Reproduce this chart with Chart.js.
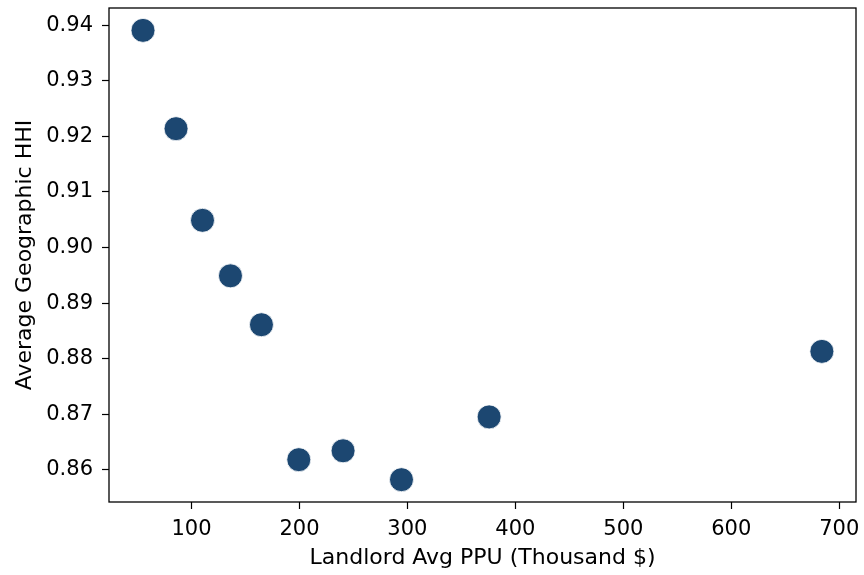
<!DOCTYPE html>
<html>
<head>
<meta charset="utf-8">
<title>Geographic HHI vs Landlord PPU</title>
<script src="https://cdn.jsdelivr.net/npm/chart.js@4.4.0/dist/chart.umd.min.js"></script>
<style>
    html, body { margin: 0; padding: 0; background: #ffffff; }
    #chart { display: block; }
</style>
</head>
<body>
<canvas id="chart" width="864" height="575"></canvas>
<script>
// Landlord average price per unit (thousand $) and average geographic HHI
const avgPpu = [55.1, 85.7, 110.2, 136.1, 164.8, 199.4, 240.4, 294.5, 375.7, 683.9];
const avgHhi = [0.9391, 0.9214, 0.9049, 0.8949, 0.8861, 0.8618, 0.8634, 0.8582, 0.8695, 0.8813];

const xTicks = [100, 200, 300, 400, 500, 600, 700];
const yTicks = [0.86, 0.87, 0.88, 0.89, 0.90, 0.91, 0.92, 0.93, 0.94];

const FONT = 'DejaVu Sans';
const POINT_COLOR = '#1c4771';

// Draws the full black box around the plot area
const frame = {
    id: 'frame',
    afterDraw(chart) {
        const { ctx, chartArea } = chart;
        ctx.save();
        ctx.strokeStyle = '#000000';
        ctx.lineWidth = 1.3;
        ctx.strokeRect(chartArea.left, chartArea.top,
            chartArea.right - chartArea.left, chartArea.bottom - chartArea.top);
        ctx.restore();
    }
};

const points = avgPpu.map((x, i) => ({ x: x, y: avgHhi[i] }));

new Chart(document.getElementById('chart'), {
    type: 'scatter',
    data: {
        datasets: [{
            data: points,
            backgroundColor: POINT_COLOR,
            borderColor: '#ffffff',
            borderWidth: 0.8,
            pointRadius: 12,
            pointHoverRadius: 12
        }]
    },
    options: {
        responsive: false,
        animation: false,
        layout: {
            autoPadding: false,
            padding: { left: 0, right: 8, top: 8, bottom: 0 }
        },
        plugins: {
            legend: { display: false },
            tooltip: { enabled: false }
        },
        scales: {
            x: {
                type: 'linear',
                min: 23.6,
                max: 715.5,
                afterBuildTicks: s => { s.ticks = xTicks.map(v => ({ value: v })); },
                afterFit: s => {
                    s.height = 73;
                    s.paddingLeft = 0;
                    s.paddingRight = 0;
                },
                grid: {
                    drawOnChartArea: false,
                    tickLength: 7,
                    tickWidth: 1.2,
                    tickColor: '#000000'
                },
                border: { display: false },
                ticks: {
                    color: '#000000',
                    padding: 8,
                    maxRotation: 0,
                    font: { family: FONT, size: 21 }
                },
                title: {
                    display: true,
                    text: 'Landlord Avg PPU (Thousand $)',
                    color: '#000000',
                    padding: { top: 0, bottom: 4 },
                    font: { family: FONT, size: 22 }
                }
            },
            y: {
                type: 'linear',
                min: 0.85418,
                max: 0.94313,
                afterBuildTicks: s => { s.ticks = yTicks.map(v => ({ value: v })); },
                afterFit: s => {
                    s.width = 109;
                    s.paddingTop = 0;
                    s.paddingBottom = 0;
                },
                grid: {
                    drawOnChartArea: false,
                    tickLength: 7,
                    tickWidth: 1.2,
                    tickColor: '#000000'
                },
                border: { display: false },
                ticks: {
                    color: '#000000',
                    padding: 9,
                    font: { family: FONT, size: 21 },
                    callback: v => v.toFixed(2)
                },
                title: {
                    display: true,
                    text: 'Average Geographic HHI',
                    color: '#000000',
                    padding: { top: 12, bottom: 0 },
                    font: { family: FONT, size: 22 }
                }
            }
        }
    },
    plugins: [frame]
});
</script>
</body>
</html>
